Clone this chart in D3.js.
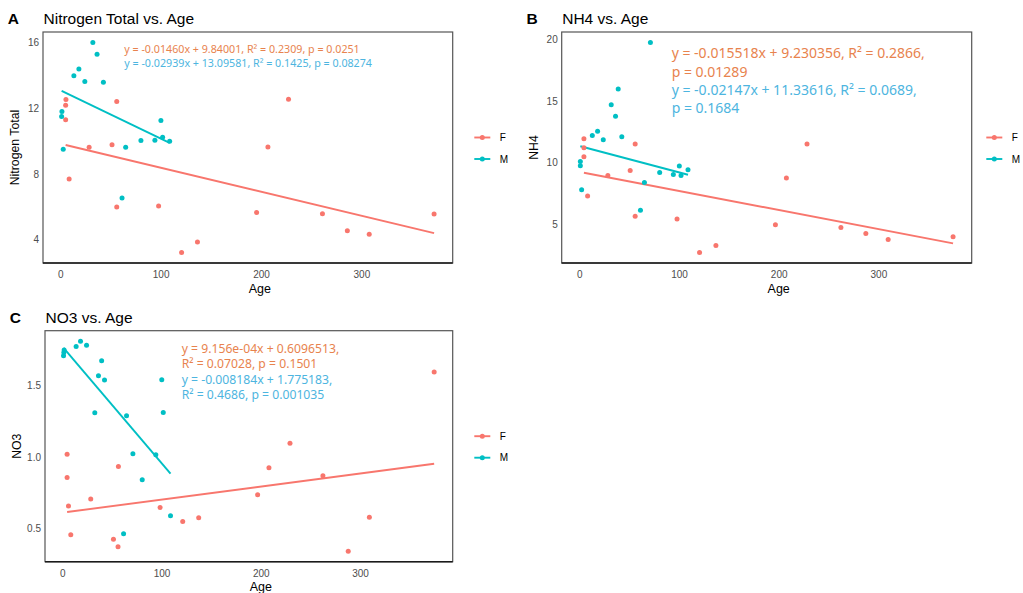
<!DOCTYPE html>
<html>
<head>
<meta charset="utf-8">
<script src="https://cdn.jsdelivr.net/npm/d3@7"></script>
<style>
  body { margin: 0; background: #ffffff; }
  svg { display: block; }
</style>
</head>
<body>
<svg id="chart" width="1023" height="593"></svg>
<script>
// ---------- data ----------
const sexes = ["F", "M"];
const xTicks = [0, 100, 200, 300];

// Nitrogen total
const nitroAgeF = [5.7, 5.4, 5.4, 8.9, 28.8, 51.6, 56.3, 56.3, 98, 120.9, 136.7, 195.6, 206.9, 227.4, 261.2, 286, 307.8, 372.4];
const nitroF    = [12.53, 12.18, 11.3, 7.69, 9.62, 9.77, 12.41, 5.99, 6.05, 3.22, 3.86, 5.66, 9.64, 12.55, 5.58, 4.55, 4.33, 5.56];
const nitroAgeM = [1.7, 1.4, 3, 13.6, 18.6, 24.5, 32.5, 36.7, 43, 65.2, 61.6, 80.4, 94.3, 100.3, 102, 109];
const nitroM    = [11.8, 11.5, 9.5, 13.97, 14.38, 13.62, 16.0, 15.28, 13.58, 9.62, 6.54, 10.03, 10.05, 11.26, 10.23, 9.99];
const nitroTicks = [4, 8, 12, 16];
const nitroFitF = { slope: "-0.01460", intercept: "9.84001", r2: "0.2309", p: "0.0251" };
const nitroFitM = { slope: "-0.02939", intercept: "13.09581", r2: "0.1425", p: "0.08274" };

// NH4
const nh4AgeF = [4.6, 4.6, 4.6, 8.3, 28.6, 51, 56, 56, 98, 120.6, 137, 196.7, 207.7, 228.4, 262.4, 287.4, 309.8, 374.9];
const nh4F    = [11.92, 11.19, 10.46, 7.27, 8.94, 9.35, 11.49, 5.62, 5.4, 2.67, 3.24, 4.92, 8.73, 11.51, 4.7, 4.21, 3.73, 3.95];
const nh4AgeM = [1, 1, 2.3, 13, 18.3, 24, 32, 36.3, 39, 42.6, 71.3, 65.3, 61.3, 80.6, 94.3, 100.3, 102, 109];
const nh4M    = [10.08, 9.73, 7.78, 12.19, 12.54, 11.84, 14.7, 13.76, 15.97, 12.08, 19.76, 8.37, 6.1, 9.18, 9.02, 9.7, 8.94, 9.4];
const nh4Ticks = [5, 10, 15, 20];
const nh4FitF = { slope: "-0.015518", intercept: "9.230356", r2: "0.2866", p: "0.01289" };
const nh4FitM = { slope: "-0.02147", intercept: "11.33616", r2: "0.0689", p: "0.1684" };

// NO3
const no3AgeF = [4.8, 4.8, 6.2, 8.5, 28.6, 51.5, 56.5, 56.1, 98.5, 121.3, 137.4, 196.8, 208.2, 229.4, 262.6, 288.1, 309.4, 374.7];
const no3F    = [1.019, 0.857, 0.657, 0.454, 0.706, 0.423, 0.934, 0.37, 0.645, 0.547, 0.573, 0.736, 0.925, 1.096, 0.869, 0.339, 0.577, 1.596];
const no3AgeM = [1.8, 1.5, 1.2, 13.9, 18.3, 24.4, 32.7, 36.4, 39.6, 42.5, 64.7, 61.7, 71.1, 80.5, 94.2, 100.2, 101.7, 109];
const no3M    = [1.752, 1.733, 1.71, 1.775, 1.813, 1.785, 1.311, 1.57, 1.675, 1.54, 1.29, 0.461, 1.023, 0.841, 1.016, 1.542, 1.313, 0.587];
const no3Ticks = [0.5, 1.0, 1.5];
const no3FitF = { slope: "9.156e-04", intercept: "0.6096513", r2: "0.07028", p: "0.1501" };
const no3FitM = { slope: "-0.008184", intercept: "1.775183", r2: "0.4686", p: "0.001035" };

// ---------- styling ----------
const pointColor = { F: "#F8766D", M: "#00BFC4" };
const noteColor  = { F: "#E8834E", M: "#4DB5E0" };
const sansFont = "'Liberation Sans', Arial, sans-serif";
const noteFont = "'Noto Sans', 'Open Sans', sans-serif";

const eqText = f => `y = ${f.slope}x + ${f.intercept}`;
const statText = f => `R\u00B2 = ${f.r2}, p = ${f.p}`;

const panels = [
  {
    tag: "A", title: "Nitrogen Total vs. Age", yLabel: "Nitrogen Total",
    box: { l: 43, t: 32, r: 452.7, b: 263 }, legendShift: 0,
    data: { F: [nitroAgeF, nitroF], M: [nitroAgeM, nitroM] },
    fits: { F: nitroFitF, M: nitroFitM },
    yTicks: nitroTicks, yFmt: d3.format("d"),
    note: { x: 124.3, y: 52.9, size: 10.7, step: 14.3,
      lines: f => [`${eqText(f)}, ${statText(f)}`] }
  },
  {
    tag: "B", title: "NH4 vs. Age", yLabel: "NH4",
    box: { l: 561.7, t: 32, r: 971.7, b: 263 }, legendShift: -7,
    data: { F: [nh4AgeF, nh4F], M: [nh4AgeM, nh4M] },
    fits: { F: nh4FitF, M: nh4FitM },
    yTicks: nh4Ticks, yFmt: d3.format("d"),
    note: { x: 671.7, y: 58.3, size: 14, step: 18.3,
      lines: f => [`${eqText(f)}, R\u00B2 = ${f.r2},`, `p = ${f.p}`] }
  },
  {
    tag: "C", title: "NO3 vs. Age", yLabel: "NO3",
    box: { l: 45, t: 330.7, r: 452.7, b: 561.7 }, legendShift: 0,
    data: { F: [no3AgeF, no3F], M: [no3AgeM, no3M] },
    fits: { F: no3FitF, M: no3FitM },
    yTicks: no3Ticks, yFmt: d3.format(".1f"),
    note: { x: 181.7, y: 352.6, size: 12.2, step: 15.5,
      lines: f => [`${eqText(f)},`, statText(f)] }
  }
];

const svg = d3.select("#chart");

// ggplot-style 5% padding on a data extent
function padded(values) {
  const [lo, hi] = d3.extent(values);
  const pad = (hi - lo) * 0.05;
  return [lo - pad, hi + pad];
}

panels.forEach(p => {
  const g = svg.append("g");
  const { l, t, r, b } = p.box;
  const allX = sexes.flatMap(s => p.data[s][0]);
  const allY = sexes.flatMap(s => p.data[s][1]);
  const x = d3.scaleLinear().domain(padded(allX)).range([l, r]);
  const y = d3.scaleLinear().domain(padded(allY)).range([b, t]);

  // panel frame
  g.append("rect")
    .attr("x", l).attr("y", t).attr("width", r - l).attr("height", b - t)
    .attr("fill", "none").attr("stroke", "#555").attr("stroke-width", 1.2);
  g.append("line")
    .attr("x1", l).attr("x2", r).attr("y1", b).attr("y2", b)
    .attr("stroke", "#1a1a1a").attr("stroke-width", 1.4);

  // axes (labels only, no tick marks)
  const xAxis = d3.axisBottom(x).tickValues(xTicks).tickSize(0).tickPadding(8);
  g.append("g").attr("transform", `translate(0,${b})`).call(xAxis)
    .call(a => a.select(".domain").remove())
    .selectAll("text")
    .attr("font-family", sansFont).attr("font-size", 10).attr("fill", "#4d4d4d");

  const yAxis = d3.axisLeft(y).tickValues(p.yTicks).tickFormat(p.yFmt).tickSize(0).tickPadding(4);
  g.append("g").attr("transform", `translate(${l},0)`).call(yAxis)
    .call(a => a.select(".domain").remove())
    .selectAll("text")
    .attr("font-family", sansFont).attr("font-size", 10).attr("fill", "#4d4d4d");

  // regression lines from the stated equations
  sexes.forEach(s => {
    const f = p.fits[s];
    const ages = p.data[s][0];
    const ends = d3.extent(ages);
    const line = d3.line().x(d => x(d)).y(d => y(+f.slope * d + +f.intercept));
    g.append("path")
      .attr("d", line(ends))
      .attr("fill", "none")
      .attr("stroke", pointColor[s])
      .attr("stroke-width", 1.9);
  });

  // points
  sexes.forEach(s => {
    const [ages, vals] = p.data[s];
    g.append("g").selectAll("circle")
      .data(ages.map((a, i) => [a, vals[i]]))
      .join("circle")
      .attr("cx", d => x(d[0]))
      .attr("cy", d => y(d[1]))
      .attr("r", 2.5)
      .attr("fill", pointColor[s]);
  });

  // equation annotations
  const noteLines = sexes.flatMap(s => p.note.lines(p.fits[s]).map(txt => ({ s, txt })));
  g.append("g").selectAll("text")
    .data(noteLines)
    .join("text")
    .attr("x", p.note.x)
    .attr("y", (d, i) => p.note.y + i * p.note.step)
    .attr("font-family", noteFont)
    .attr("font-size", p.note.size)
    .attr("fill", d => noteColor[d.s])
    .text(d => d.txt);

  // titles
  g.append("text")
    .attr("x", l - 35.3).attr("y", t - 8)
    .attr("font-family", sansFont).attr("font-size", 15.5).attr("font-weight", "bold")
    .attr("fill", "#000").text(p.tag);
  g.append("text")
    .attr("x", l + 0.5).attr("y", t - 8)
    .attr("font-family", sansFont).attr("font-size", 15.5)
    .attr("fill", "#000").text(p.title);

  // axis titles
  g.append("text")
    .attr("x", (l + r) / 2 + 12).attr("y", b + 29.5)
    .attr("text-anchor", "middle")
    .attr("font-family", sansFont).attr("font-size", 12.5)
    .attr("fill", "#000").text("Age");
  g.append("text")
    .attr("transform", `translate(${l - 23.7},${(t + b) / 2}) rotate(-90)`)
    .attr("text-anchor", "middle")
    .attr("font-family", sansFont).attr("font-size", 12.3)
    .attr("fill", "#000").text(p.yLabel);

  // legend
  const cy = (t + b) / 2;
  const legend = g.append("g").attr("transform", `translate(${r + 21.6 + p.legendShift},${cy})`);
  sexes.forEach((s, i) => {
    const ly = i === 0 ? -10 : 11.5;
    legend.append("line")
      .attr("x1", 0).attr("x2", 16).attr("y1", ly).attr("y2", ly)
      .attr("stroke", pointColor[s]).attr("stroke-width", 1.9);
    legend.append("circle")
      .attr("cx", 8).attr("cy", ly).attr("r", 2.5).attr("fill", pointColor[s]);
    legend.append("text")
      .attr("x", 25.5).attr("y", ly + 3.6)
      .attr("font-family", sansFont).attr("font-size", 10)
      .attr("fill", "#000").text(s);
  });
});
</script>
</body>
</html>
